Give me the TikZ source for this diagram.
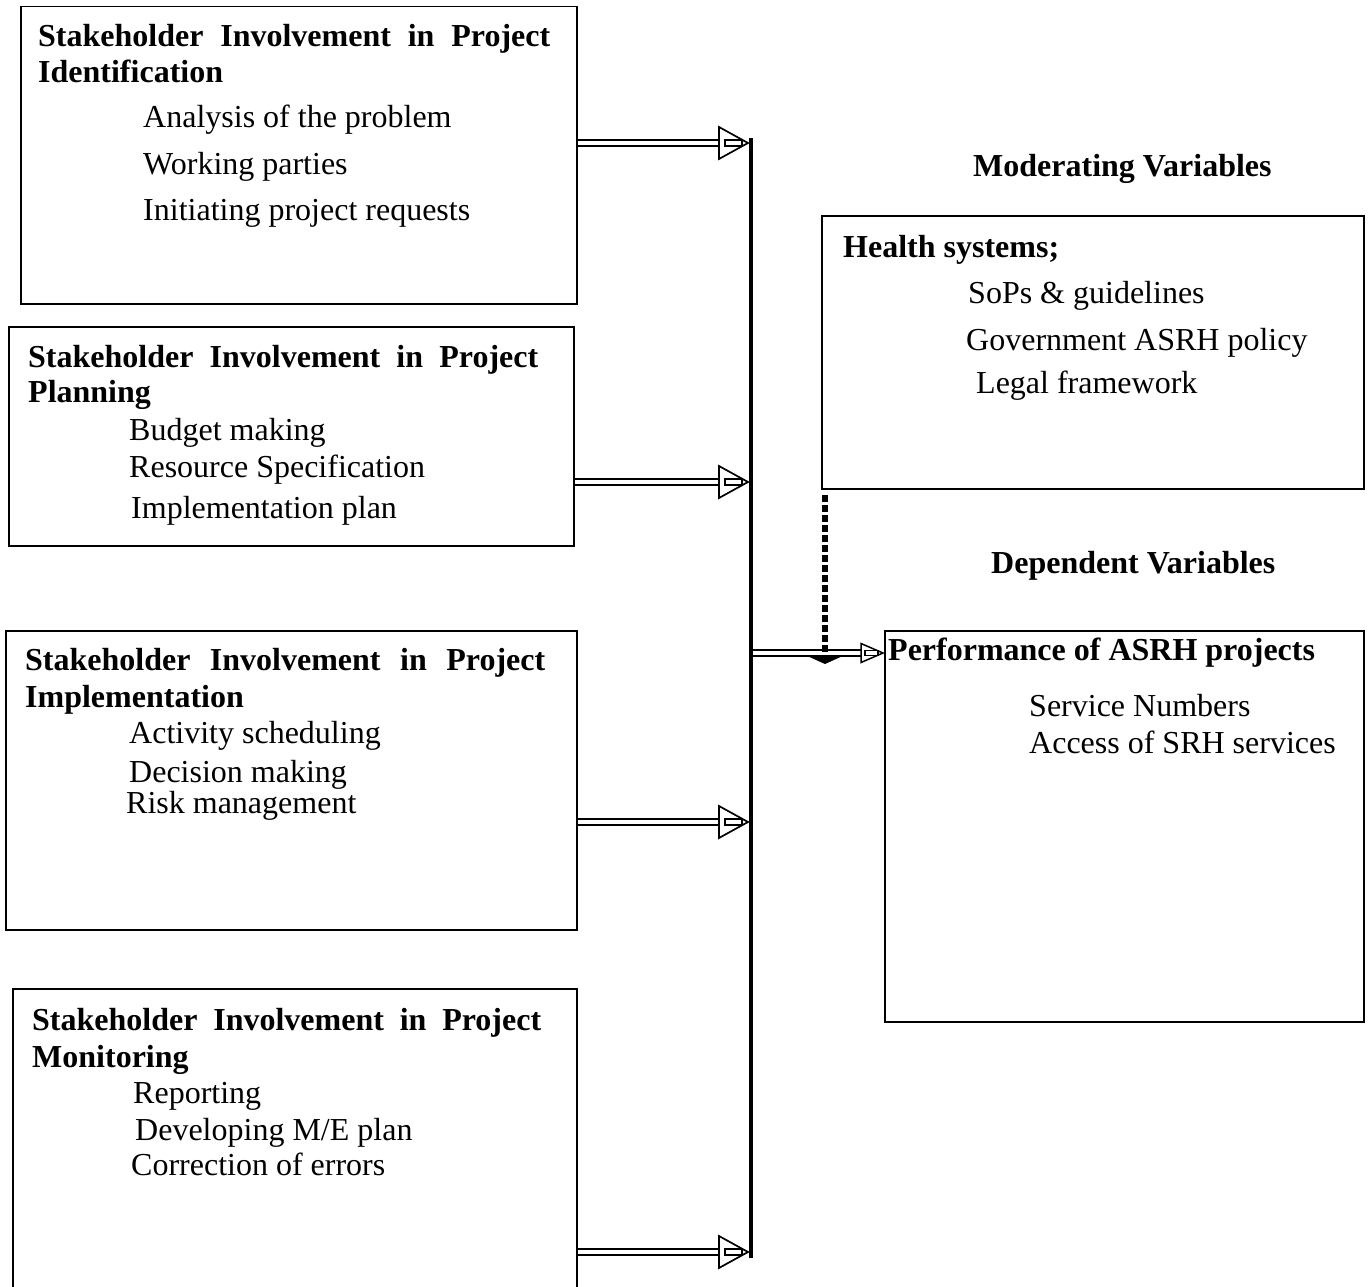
\documentclass[tikz,border=0pt]{standalone}
\usepackage{fontspec}
\setmainfont{Liberation Serif}
\usetikzlibrary{calc}
\tikzset{
  box/.style={draw, line width=1.5pt, rectangle, inner sep=0pt, anchor=north west},
  txt/.style={inner sep=0pt, anchor=base west, font=\fontsize{32}{37}\selectfont},
  ttl/.style={inner sep=0pt, anchor=base west, font=\fontsize{32}{37}\selectfont\bfseries},
  shaft/.style={double, double distance=4.2pt, line width=1.7pt},
  headtri/.style={draw, line width=1.7pt, fill=white, line join=miter},
  innerbar/.style={draw, line width=1.5pt, fill=white},
  dots/.style={line width=6.5pt, dash pattern=on 7pt off 3pt},
  vline/.style={line width=4pt}
}
\begin{document}
\begin{tikzpicture}[x=1pt,y=-1pt]
\useasboundingbox (0,0) rectangle (1369,1287);

% boxes
\node[box, minimum width=556pt, minimum height=297pt] (b1) at (20,6) {};
\node[box, minimum width=565pt, minimum height=219pt] (b2) at (8,326) {};
\node[box, minimum width=571pt, minimum height=299pt] (b3) at (5,630) {};
\node[box, minimum width=564pt, minimum height=320pt] (b4) at (12,988) {};
\node[box, minimum width=542pt, minimum height=273pt] (m) at (821,215) {};
\node[box, minimum width=479pt, minimum height=391pt] (p) at (884,630) {};

% box 1
\node[ttl] (b1t1) at (38,47) {\hbox to 512pt{Stakeholder\hfill Involvement\hfill in\hfill Project}};
\node[ttl] (b1t2) at (38,83) {Identification};
\node[txt] (b1i1) at (143,128) {Analysis of the problem};
\node[txt] (b1i2) at (143,175) {Working parties};
\node[txt] (b1i3) at (143,221) {Initiating project requests};

% box 2
\node[ttl] (b2t1) at (28,367) {\hbox to 510pt{Stakeholder\hfill Involvement\hfill in\hfill Project}};
\node[ttl] (b2t2) at (28,402) {Planning};
\node[txt] (b2i1) at (129,440) {Budget making};
\node[txt] (b2i2) at (129,477) {Resource Specification};
\node[txt] (b2i3) at (131,518) {Implementation plan};

% box 3
\node[ttl] (b3t1) at (25,670) {\hbox to 520pt{Stakeholder\hfill Involvement\hfill in\hfill Project}};
\node[ttl] (b3t2) at (25,707) {Implementation};
\node[txt] (b3i1) at (129,743) {Activity scheduling};
\node[txt] (b3i2) at (129,782) {Decision making};
\node[txt] (b3i3) at (126,813) {Risk management};

% box 4
\node[ttl] (b4t1) at (32,1030) {\hbox to 509pt{Stakeholder\hfill Involvement\hfill in\hfill Project}};
\node[ttl] (b4t2) at (32,1067) {Monitoring};
\node[txt] (b4i1) at (133,1103) {Reporting};
\node[txt] (b4i2) at (135,1140) {Developing M/E plan};
\node[txt] (b4i3) at (131,1175) {Correction of errors};

% right side
\node[ttl] (mh) at (973,177) {Moderating Variables};
\node[ttl] (mt) at (843,257) {Health systems;};
\node[txt] (mi1) at (968,303) {SoPs \& guidelines};
\node[txt] (mi2) at (966,350) {Government ASRH policy};
\node[txt] (mi3) at (976,393) {Legal framework};

\node[ttl] (dh) at (991,573) {Dependent Variables};
\node[ttl] (pt) at (888,660) {Performance of ASRH projects};
\node[txt] (pi1) at (1029,716) {Service Numbers};
\node[txt] (pi2) at (1029,753) {Access of SRH services};

% vertical collector line
\coordinate (vt) at (751,138);
\coordinate (vb) at (751,1258);
\draw[vline] (vt) -- (vb);

% arrows from the boxes to the line
\coordinate (t1) at (748,143);
\coordinate (t2) at (748,482);
\coordinate (t3) at (748,822);
\coordinate (t4) at (748,1252);
\foreach \b/\t in {b1/t1,b2/t2,b3/t3,b4/t4}{
  \draw[shaft] (\b.east |- \t) -- ([xshift=-29pt]\t);
  \draw[headtri] (\t) -- ++(-29,-16) -- ++(0,32) -- cycle;
  \draw[innerbar] ([xshift=-23pt,yshift=-3pt]\t) rectangle ([xshift=-6pt,yshift=3pt]\t);
}

% arrow from the line to the performance box
\coordinate (a5) at (753,653);
\path (a5 -| p.west) coordinate (t5);
\draw[shaft] (a5) -- ([xshift=-23pt]t5);
\draw[headtri, line width=1.5pt] ([xshift=-1pt]t5) -- ++(-22,-9.5) -- ++(0,19) -- cycle;
\draw[innerbar, line width=1.2pt] ([xshift=-19pt,yshift=-2.5pt]t5) rectangle ([xshift=-6pt,yshift=2.5pt]t5);

% dotted moderating connector
\coordinate (d0) at ([xshift=4pt,yshift=-5pt]m.south west);
\path (d0 |- a5) coordinate (d1);
\draw[dots] (d0) -- (d1);
\fill ([xshift=-20pt,yshift=-2pt]d1) -- ([xshift=20pt,yshift=-2pt]d1) -- ([yshift=-11pt]d1) -- cycle;
\end{tikzpicture}
\end{document}
